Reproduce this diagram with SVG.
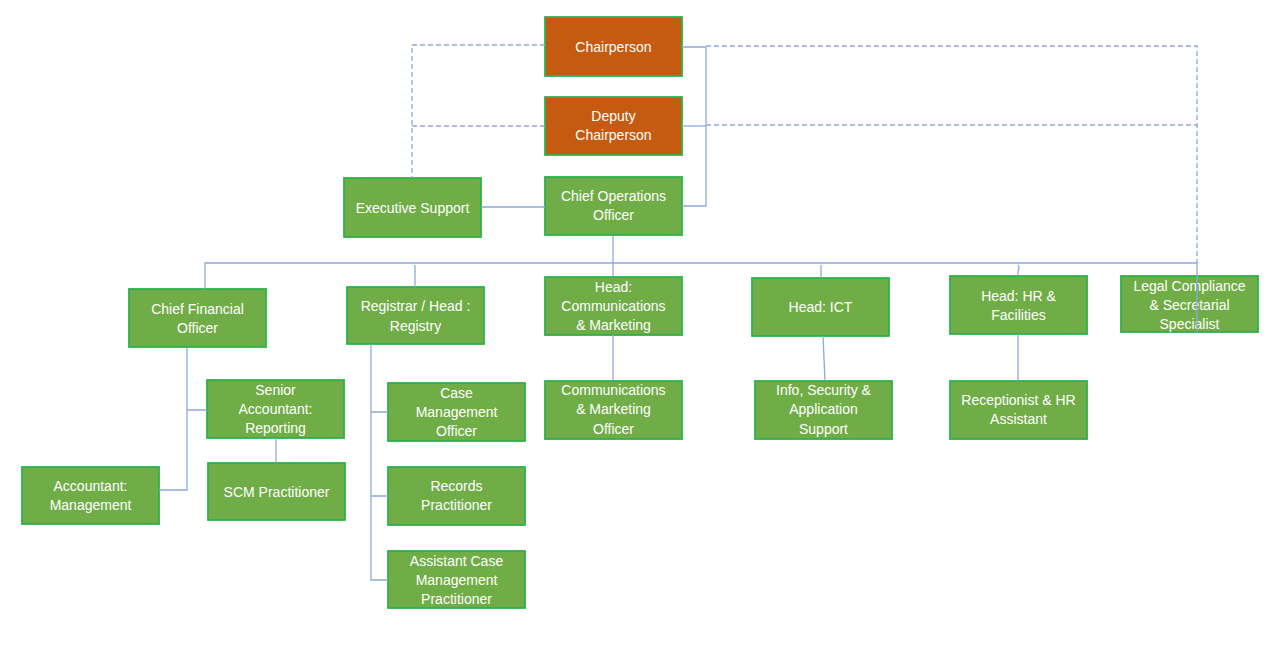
<svg xmlns="http://www.w3.org/2000/svg" width="1280" height="672" viewBox="0 0 1280 672">
<style>
.g{fill:#70AD47;stroke:#2DB34C;stroke-width:1.8}
.o{fill:#C55A11;stroke:#2DB34C;stroke-width:1.8}
text{font-family:"Liberation Sans",Arial,sans-serif;font-size:14px;fill:#ffffff;text-anchor:middle;dominant-baseline:central}
.c{fill:none;stroke:#8EA9DB;stroke-width:1.3}
.d{fill:none;stroke:#8EA9DB;stroke-width:1.3;stroke-dasharray:5 3}
</style>
<rect width="1280" height="672" fill="#ffffff"/>
<g id="nodes">
<g id="chair"><rect class="o" x="545" y="17" width="137" height="59"/><text x="613.5" y="47">Chairperson</text></g>
<g id="deputy"><rect class="o" x="545" y="97" width="137" height="58"/><text x="613.5" y="116">Deputy</text><text x="613.5" y="135">Chairperson</text></g>
<g id="coo"><rect class="g" x="545" y="177" width="137" height="58"/><text x="613.5" y="196">Chief Operations</text><text x="613.5" y="215">Officer</text></g>
<g id="exec"><rect class="g" x="344" y="178" width="137" height="59"/><text x="412.5" y="208">Executive Support</text></g>
<g id="cfo"><rect class="g" x="129" y="289" width="137" height="58"/><text x="197.5" y="309">Chief Financial</text><text x="197.5" y="328">Officer</text></g>
<g id="registrar"><rect class="g" x="347" y="287" width="137" height="57"/><text x="415.5" y="306">Registrar / Head :</text><text x="415.5" y="326">Registry</text></g>
<g id="headcomm"><rect class="g" x="545" y="277" width="137" height="58"/><text x="613.5" y="287">Head:</text><text x="613.5" y="306">Communications</text><text x="613.5" y="325">&amp; Marketing</text></g>
<g id="headict"><rect class="g" x="752" y="278" width="137" height="58"/><text x="820.5" y="307">Head: ICT</text></g>
<g id="headhr"><rect class="g" x="950" y="276" width="137" height="58"/><text x="1018.5" y="296">Head: HR &amp;</text><text x="1018.5" y="315">Facilities</text></g>
<g id="legal"><rect class="g" x="1121" y="276" width="137" height="56"/><text x="1189.5" y="286">Legal Compliance</text><text x="1189.5" y="305">&amp; Secretarial</text><text x="1189.5" y="324">Specialist</text></g>
<g id="senior"><rect class="g" x="207" y="380" width="137" height="58"/><text x="275.5" y="390">Senior</text><text x="275.5" y="409">Accountant:</text><text x="275.5" y="428">Reporting</text></g>
<g id="scm"><rect class="g" x="208" y="463" width="137" height="57"/><text x="276.5" y="492">SCM Practitioner</text></g>
<g id="acct"><rect class="g" x="22" y="467" width="137" height="57"/><text x="90.5" y="486">Accountant:</text><text x="90.5" y="505">Management</text></g>
<g id="case"><rect class="g" x="388" y="383" width="137" height="58"/><text x="456.5" y="393">Case</text><text x="456.5" y="412">Management</text><text x="456.5" y="431">Officer</text></g>
<g id="records"><rect class="g" x="388" y="467" width="137" height="58"/><text x="456.5" y="486">Records</text><text x="456.5" y="505">Practitioner</text></g>
<g id="assistant"><rect class="g" x="388" y="551" width="137" height="57"/><text x="456.5" y="561">Assistant Case</text><text x="456.5" y="580">Management</text><text x="456.5" y="599">Practitioner</text></g>
<g id="commofficer"><rect class="g" x="545" y="381" width="137" height="58"/><text x="613.5" y="390">Communications</text><text x="613.5" y="409">&amp; Marketing</text><text x="613.5" y="429">Officer</text></g>
<g id="infosec"><rect class="g" x="755" y="381" width="137" height="58"/><text x="823.5" y="390">Info, Security &amp;</text><text x="823.5" y="409">Application</text><text x="823.5" y="429">Support</text></g>
<g id="reception"><rect class="g" x="950" y="381" width="137" height="58"/><text x="1018.5" y="400">Receptionist &amp; HR</text><text x="1018.5" y="419">Assistant</text></g>
</g>
<g id="connectors">
<path class="d" d="M545,45 H412 V178"/>
<path class="d" d="M545,126 H412"/>
<path class="c" d="M682,47 H706 V206 H682"/>
<path class="c" d="M682,126 H706"/>
<path class="d" d="M706,46 H1197 V263"/>
<path class="d" d="M706,125 H1197"/>
<path class="c" d="M481,207 H545"/>
<path class="c" d="M613,235 V263"/>
<path class="c" d="M205,289 V263 H1197 V332"/>
<path class="c" d="M415,265 V287"/>
<path class="c" d="M613,263 V277"/>
<path class="c" d="M821,265 V278"/>
<path class="c" d="M1018,265 Q1020,268 1018,271 L1018,276"/>
<path class="c" d="M187,347 V490 H159 M187,410 H207"/>
<path class="c" d="M276,438 V463"/>
<path class="c" d="M371,344 V580 H388 M371,412 H388 M371,496 H388"/>
<path class="c" d="M613,335 V381"/>
<path class="c" d="M823,336 L825,381"/>
<path class="c" d="M1018,334 V381"/>
</g>
</svg>
